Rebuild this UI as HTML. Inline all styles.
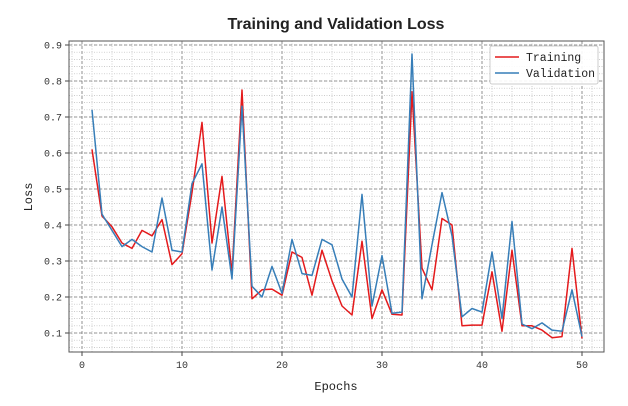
<!DOCTYPE html>
<html><head><meta charset="utf-8"><style>
body{margin:0;background:#fff;}
svg{display:block;}
</style></head><body>
<svg id="chart" width="628" height="406" xmlns="http://www.w3.org/2000/svg">
<text x="336" y="29" text-anchor="middle" font-family="Liberation Sans, sans-serif" font-weight="bold" font-size="16" fill="#222">Training and Validation Loss</text>
<g id="grid"></g>
<g id="axes"></g>
<g id="series"></g>
<text x="336" y="390" text-anchor="middle" font-family="Liberation Mono, monospace" font-size="12" fill="#222">Epochs</text>
<text x="32" y="197" text-anchor="middle" font-family="Liberation Mono, monospace" font-size="12" fill="#222" transform="rotate(-90 32 197)">Loss</text>
<g>
<rect x="490" y="46" width="108" height="38" fill="#fff" fill-opacity="0.9" stroke="#ccc" rx="2"/>
<line x1="495" y1="57" x2="519" y2="57" stroke="#e41a1c" stroke-width="1.5"/>
<text x="526" y="61" font-family="Liberation Mono, monospace" font-size="11.5" fill="#222">Training</text>
<line x1="495" y1="73" x2="519" y2="73" stroke="#377eb8" stroke-width="1.5"/>
<text x="526" y="77" font-family="Liberation Mono, monospace" font-size="11.5" fill="#222">Validation</text>
</g>
</svg>
<script>
const epochs = Array.from({length:50},(_, i)=>i+1);
const trainingLoss = [0.61,0.425,0.395,0.35,0.335,0.385,0.37,0.415,0.29,0.32,0.49,0.685,0.35,0.535,0.265,0.775,0.195,0.22,0.222,0.205,0.325,0.31,0.205,0.33,0.245,0.175,0.15,0.355,0.14,0.22,0.152,0.15,0.77,0.28,0.22,0.418,0.40,0.12,0.122,0.122,0.27,0.105,0.33,0.12,0.12,0.108,0.087,0.09,0.335,0.085];
const validationLoss = [0.72,0.43,0.385,0.34,0.36,0.34,0.325,0.475,0.33,0.325,0.515,0.57,0.275,0.45,0.25,0.73,0.23,0.2,0.285,0.21,0.36,0.265,0.26,0.36,0.345,0.25,0.2,0.485,0.175,0.315,0.155,0.158,0.875,0.195,0.345,0.49,0.37,0.145,0.168,0.158,0.325,0.14,0.41,0.125,0.112,0.128,0.108,0.105,0.22,0.09];
const xTicks = [0,10,20,30,40,50];
const yTicks = [0.1,0.2,0.3,0.4,0.5,0.6,0.7,0.8,0.9];

const L=69,R=604,T=41,B=352;
const xs = v => 82 + (v-0)*(582-82)/50;
const ys = v => 333 - (v-0.1)*(333-45)/0.8;
const NS="http://www.w3.org/2000/svg";
function mk(tag,attrs,parent){const e=document.createElementNS(NS,tag);for(const k in attrs)e.setAttribute(k,attrs[k]);parent.appendChild(e);return e;}
const grid=document.getElementById('grid'), axes=document.getElementById('axes'), series=document.getElementById('series');
mk('rect',{x:L,y:T,width:R-L,height:B-T,fill:'#fff'},grid);
// minor grid
for(let v=-1;v<=52;v+=2){const x=xs(v);if(x<=L||x>=R)continue;
 const ln=mk('line',{x1:x,x2:x,y1:T,y2:B,stroke:'#bbb','stroke-width':0.7,'stroke-dasharray':'1,1.5'},grid);
 
 }
for(let v=0.04;v<=0.92;v+=0.02){const y=ys(v);if(y<=T||y>=B)continue;
 const ln=mk('line',{x1:L,x2:R,y1:y,y2:y,stroke:'#bbb','stroke-width':0.7,'stroke-dasharray':'1,1.5'},grid);
 
 }
// major grid + ticks
xTicks.forEach(v=>{const x=xs(v);
 const ln=mk('line',{x1:x,x2:x,y1:T,y2:B,stroke:'#777','stroke-width':0.8,'stroke-dasharray':'3,2'},grid);
 
 
 mk('line',{x1:x,x2:x,y1:B,y2:B+4,stroke:'#444'},axes);
 const t=mk('text',{x:x,y:B+16,'text-anchor':'middle','font-family':'Liberation Mono, monospace','font-size':10,fill:'#333'},axes);
 t.textContent=v;
 
 });
yTicks.forEach(v=>{const y=ys(v);
 const ln=mk('line',{x1:L,x2:R,y1:y,y2:y,stroke:'#777','stroke-width':0.8,'stroke-dasharray':'3,2'},grid);
 
 
 mk('line',{x1:L-4,x2:L,y1:y,y2:y,stroke:'#444'},axes);
 const t=mk('text',{x:L-7,y:y+3.5,'text-anchor':'end','font-family':'Liberation Mono, monospace','font-size':10,fill:'#333'},axes);
 t.textContent=v.toFixed(1);
 
 });
const frame=mk('rect',{x:L,y:T,width:R-L,height:B-T,fill:'none',stroke:'#555','stroke-width':1},axes);


function line(data,color,name){
 const pts=data.map((v,i)=>xs(epochs[i]).toFixed(1)+','+ys(v).toFixed(1)).join(' ');
 const p=mk('polyline',{points:pts,fill:'none',stroke:color,'stroke-width':1.5,'stroke-linejoin':'round'},series);
 
 }
line(trainingLoss,'#e41a1c','training-loss-line');
line(validationLoss,'#377eb8','validation-loss-line');
</script>
</body></html>
